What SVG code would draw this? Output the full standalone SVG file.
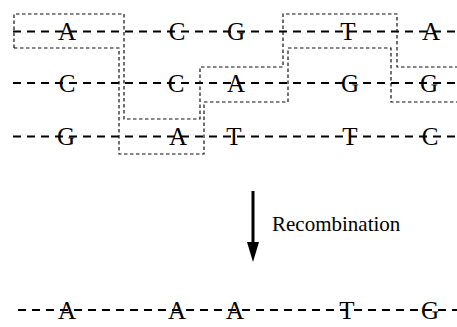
<svg xmlns="http://www.w3.org/2000/svg" width="457" height="327" viewBox="0 0 457 327">
<style>
.seq{stroke:#000;stroke-width:2.2;stroke-dasharray:8 6;fill:none}
.box{stroke:#111;stroke-width:1.2;stroke-dasharray:3.5 2.5;fill:none}
.b{font-family:"Liberation Serif","Times New Roman",serif;font-size:25px;text-anchor:middle;fill:#000}
.lbl{font-family:"Liberation Serif","Times New Roman",serif;font-size:21px;fill:#000}
</style>
<g id="connectors">
<line class="seq" x1="13" y1="31.5" x2="457" y2="31.5"/>
<line class="seq" x1="13" y1="83" x2="457" y2="83"/>
<line class="seq" x1="13" y1="136.5" x2="457" y2="136.5"/>
<line class="seq" x1="18" y1="310" x2="457" y2="310"/>
<path class="box" d="M14,48 V14 H124 V119 H200 V67 H283 V14 H397 V67 H457"/>
<path class="box" d="M14,48 H119 V154 H204 V102 H288 V48 H391 V102 H457"/>
<line x1="253" y1="191" x2="253" y2="244" stroke="#000" stroke-width="3"/>
<path d="M247,242 L259,242 L253,262 Z" fill="#000"/>
</g>
<g id="row1">
<text class="b" x="67" y="40">A</text>
<text class="b" x="177" y="40">C</text>
<text class="b" x="236" y="40">G</text>
<text class="b" x="348" y="40">T</text>
<text class="b" x="431" y="40">A</text>
</g>
<g id="row2">
<text class="b" x="67" y="91.5">C</text>
<text class="b" x="176" y="91.5">C</text>
<text class="b" x="236" y="91.5">A</text>
<text class="b" x="350" y="91.5">G</text>
<text class="b" x="429" y="91.5">G</text>
</g>
<g id="row3">
<text class="b" x="66" y="145">G</text>
<text class="b" x="178" y="145">A</text>
<text class="b" x="234" y="145">T</text>
<text class="b" x="350" y="145">T</text>
<text class="b" x="430" y="145">C</text>
</g>
<g id="label">
<text class="lbl" x="272" y="231">Recombination</text>
</g>
<g id="result">
<text class="b" x="67" y="318.5">A</text>
<text class="b" x="177" y="318.5">A</text>
<text class="b" x="235" y="318.5">A</text>
<text class="b" x="347" y="318.5">T</text>
<text class="b" x="430" y="318.5">G</text>
</g>
</svg>
